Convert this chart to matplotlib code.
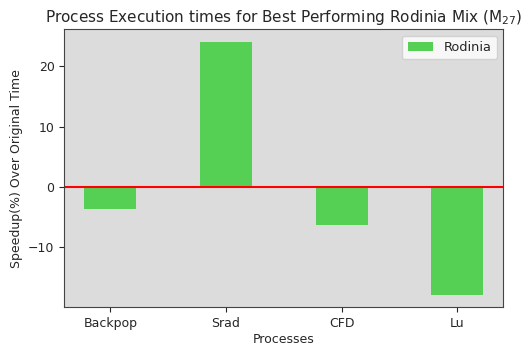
import numpy as np
import matplotlib
matplotlib.use("Agg")
import matplotlib.pyplot as plt

processes = ["Backpop", "Srad", "CFD", "Lu"]
speedup = [-3.7, 24.0, -6.2, -17.8]

plt.rcParams["font.size"] = 9
plt.rcParams["text.color"] = "#262626"
plt.rcParams["axes.labelcolor"] = "#262626"
plt.rcParams["xtick.color"] = "#262626"
plt.rcParams["ytick.color"] = "#262626"

fig, ax = plt.subplots(figsize=(5.27, 3.46), dpi=100)
ax.set_facecolor("#dcdcdc")
for s in ax.spines.values():
    s.set_color("#444444")
x = np.arange(len(processes))
ax.bar(x, speedup, width=0.45, color="#55d055", label="Rodinia")
ax.axhline(0, color="red", linewidth=1.5)
ax.set_xticks(x)
ax.set_xticklabels(processes)
ax.set_xlabel("Processes", labelpad=2)
ax.set_ylabel("Speedup(%) Over Original Time")
ax.set_title("Process Execution times for Best Performing Rodinia Mix (M$_{27}$)",
             fontsize=11, pad=5)
ax.legend(loc="upper right", fontsize=9.3)
fig.subplots_adjust(left=0.122, right=0.955, top=0.915, bottom=0.112)
fig.savefig("out.png", dpi=100)
